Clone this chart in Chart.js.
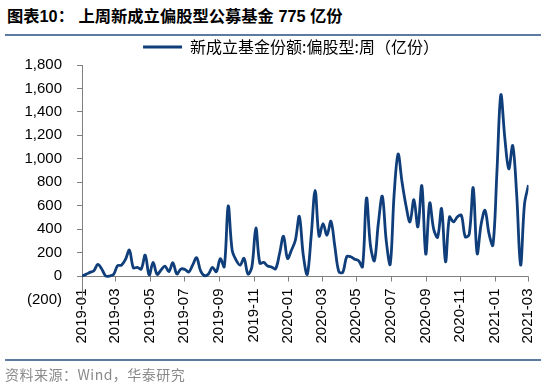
<!DOCTYPE html>
<html><head><meta charset="utf-8">
<script src="https://cdn.jsdelivr.net/npm/chart.js@4.4.0/dist/chart.umd.min.js"></script>
<style>
html,body{margin:0;padding:0;background:#fff;}
#wrap{position:relative;width:546px;height:385px;overflow:hidden;background:#fff;}
#title{position:absolute;left:7px;top:6px;font:bold 16.3px "Liberation Sans","Noto Sans CJK SC",sans-serif;color:#000;white-space:pre;line-height:20px;}
.rule{position:absolute;left:5px;width:536px;height:2px;background:#5b7ba0;}
#src{position:absolute;left:5px;top:364.5px;font:14px "Noto Sans CJK SC","Liberation Sans",sans-serif;color:#8a8a8a;line-height:18px;letter-spacing:0.5px;white-space:pre;}
canvas{position:absolute;left:0;top:0;}
</style></head>
<body><div id="wrap">
<div id="title">图表10： 上周新成立偏股型公募基金 775 亿份</div>
<div class="rule" style="top:34px"></div>
<canvas id="c" width="546" height="385"></canvas>
<div class="rule" style="top:359px"></div>
<div id="src">资料来源：Wind，华泰研究</div>
</div>
<script>
const seriesName = '新成立基金份额:偏股型:周（亿份）';
// weekly observations, first week ending 2019-01-04
const firstWeek = '2019-01-04';
const values2019 = [0,14,31,45,99,60,0,0,14,88,93,141,221,70,74,60,178,8,116,14,51,85,37,113,17,59,57,34,93,156,45,3,17,74,37,147,79,597,221,136,93,150,17,79,410,110,116,85,76,62,192,340];
const values2020 = [150,220,305,509,178,14,340,730,340,447,348,467,249,37,31,165,164,144,130,79,665,260,130,450,680,300,100,700,1040,800,600,461,650,419,770,187,623,400,330,574,122,504,461,504,518,334,357,753,192,440,560,362];
const values2021 = [263,880,1545,1180,914,1112,700,93,617,775];
const xTickLabels = ['2019-01','2019-03','2019-05','2019-07','2019-09','2019-11','2020-01','2020-03','2020-05','2020-07','2020-09','2020-11','2021-01','2021-03'];
const yMin = -200, yMax = 1800, yStep = 200;

const DAY = 86400000;
const origin = Date.UTC(2019, 0, 1);
function dayOf(str){ const [y,m,d] = str.split('-').map(Number); return (Date.UTC(y, m-1, d) - origin) / DAY; }
const allValues = values2019.concat(values2020, values2021);
const startDay = dayOf(firstWeek);
const points = allValues.map((v, i) => ({x: startDay + 7 * i, y: v}));
const endDay = points[points.length - 1].x;
const tickDayOfMonth = firstWeek.split('-')[2];
const xTickValues = xTickLabels.map(l => dayOf(l + '-' + tickDayOfMonth));

function fmtY(v){
  const s = Math.abs(v).toLocaleString('en-US');
  return v < 0 ? '(' + s + ')' : s;
}

const axisColor = '#808080';
const zeroAxis = {
  id: 'zeroAxis',
  beforeDraw(chart){
    // let tick labels extend outside their own scale boxes (as in the reference)
    Object.values(chart.scales).forEach(s => { s._computeLabelArea = () => undefined; });
  },
  beforeDatasetsDraw(chart){
    const {ctx, chartArea, scales:{x, y}} = chart;
    const y0 = Math.round(y.getPixelForValue(0)) + 0.5;
    ctx.save();
    ctx.strokeStyle = axisColor; ctx.lineWidth = 1;
    ctx.beginPath();
    ctx.moveTo(chartArea.left, y0); ctx.lineTo(chartArea.right, y0);
    x.ticks.forEach(t => {
      const px = Math.round(x.getPixelForValue(t.value)) + 0.5;
      ctx.moveTo(px, y0); ctx.lineTo(px, y0 + 5);
    });
    ctx.stroke();
    ctx.restore();
  }
};

const latin = "'Liberation Sans', Arial, sans-serif";
new Chart(document.getElementById('c'), {
  type: 'line',
  data: { datasets: [{
    label: seriesName,
    data: points,
    borderColor: '#0f3e7a',
    backgroundColor: '#0f3e7a',
    borderWidth: 2.8,
    pointRadius: 0,
    tension: 0.35,
    fill: false
  }]},
  options: {
    responsive: false,
    animation: false,
    devicePixelRatio: 1,
    layout: { padding: { left: 53.5, right: 17.5, top: 29.5, bottom: 52.5 } },
    plugins: {
      tooltip: { enabled: false },
      legend: {
        display: true,
        position: 'top',
        labels: {
          usePointStyle: true,
          pointStyle: 'line',
          pointStyleWidth: 39,
          padding: 9.5,
          color: '#000',
          font: { family: "'Noto Sans CJK SC', sans-serif", size: 16 }
        }
      }
    },
    scales: {
      x: {
        type: 'linear',
        min: startDay,
        max: endDay,
        grid: { display: false, drawTicks: false },
        border: { display: false },
        afterBuildTicks: s => { s.ticks = xTickValues.map(v => ({value: v})); },
        ticks: {
          autoSkip: false,
          minRotation: 90,
          maxRotation: 90,
          padding: -11,
          color: '#000',
          font: { family: latin, size: 15 },
          callback: (v, i) => xTickLabels[i]
        }
      },
      y: {
        min: yMin,
        max: yMax,
        afterFit: s => { s.width = 28.5; },
        ticks: {
          stepSize: yStep,
          padding: 15,
          color: '#000',
          font: { family: latin, size: 15 },
          callback: v => fmtY(v)
        },
        grid: { drawOnChartArea: false, drawTicks: true, tickLength: 5, color: axisColor },
        border: { display: true, color: axisColor }
      }
    }
  },
  plugins: [zeroAxis]
});
</script>
</body></html>
